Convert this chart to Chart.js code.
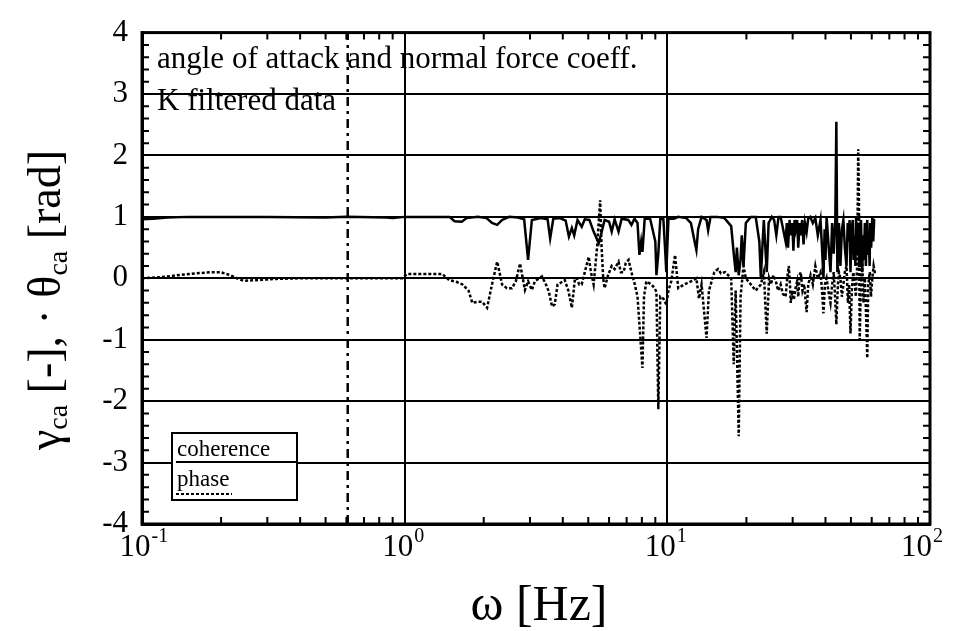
<!DOCTYPE html>
<html>
<head>
<meta charset="utf-8">
<script src="https://cdn.jsdelivr.net/npm/chart.js@4.4.1/dist/chart.umd.min.js"></script>
<style>
  body { margin: 0; background: #fff; }
  #wrap { width: 964px; height: 631px; position: relative; }
</style>
</head>
<body>
<div id="wrap"><canvas id="chart"></canvas></div>
<script>
// coherence (solid)
const cohFreq = [0.1, 0.11, 0.125, 0.15, 0.3, 0.5, 0.6, 0.85, 0.9, 1.0, 1.3, 1.48, 1.55, 1.65, 1.72, 1.9, 2.05, 2.15, 2.25, 2.35,
  2.5, 2.7, 2.85, 2.95, 3.05, 3.3, 3.5, 3.58, 3.68, 3.9, 4.1, 4.22, 4.33, 4.42, 4.55, 4.72, 4.85, 5.05, 5.24, 5.48,
  5.62, 5.77, 6.0, 6.14, 6.3, 6.52, 6.7, 7.1, 7.3, 7.5, 7.7, 7.83, 7.95, 8.04, 8.2, 8.6, 9.0, 9.09, 9.24, 9.4,
  9.66, 9.8, 9.91, 10.1, 10.6, 11.0, 11.8, 12.3, 12.7, 12.9, 13.1, 13.5, 14.1, 14.3, 14.6, 15.5, 16.5, 17.5, 17.9, 18.2,
  18.4, 18.7, 19.0, 19.2, 19.5, 19.9, 20.8, 21.7, 22.4, 22.7, 23.0, 23.3, 23.9,
  24.3, 25.0, 25.5, 26.0, 26.5, 27.0, 27.6, 28.2, 28.5, 28.8, 29.2, 29.5, 29.9, 30.2, 30.5, 30.8, 31.2, 31.5, 31.9, 32.2,
  32.6, 33.0, 33.4, 33.9, 34.4, 35.0, 35.8, 36.6, 37.4, 38.3, 38.8, 39.3, 39.7, 40.0, 40.4, 41.0, 41.8, 42.4, 43.0, 43.6,
  44.0, 44.4, 45.0, 45.6, 46.2, 46.8, 47.4, 48.1, 48.6, 49.0, 49.4, 49.8, 50.3, 50.8, 51.2, 51.5, 52.0, 52.3, 52.8, 53.3,
  53.7, 54.0, 54.6, 55.2, 55.6, 56.0, 56.5, 57.0, 57.4, 57.7, 58.1, 58.5, 58.9, 59.2, 59.7, 60.3, 60.8, 61.3, 61.9];
const cohVals = [0.96, 0.97, 0.99, 1.0, 1.0, 0.99, 1.0, 0.99, 0.98, 1.0, 1.0, 1.0, 0.93, 0.92, 0.98, 1.0, 0.98, 0.9, 0.87, 0.95,
  1.0, 0.99, 0.96, 0.3, 0.95, 0.98, 0.96, 0.65, 0.97, 0.98, 0.94, 0.68, 0.82, 0.7, 0.95, 0.84, 0.96, 0.95, 0.76, 0.57,
  0.75, 0.95, 0.92, 0.76, 0.96, 0.76, 0.97, 0.95, 0.87, 0.97, 0.9, 0.38, 0.6, 0.43, 0.97, 0.97, 0.6, 0.05, 0.4, 0.97,
  0.96, 0.5, 0.1, 0.97, 0.97, 1.0, 0.98, 0.9, 0.6, 0.46, 0.8, 1.0, 0.95, 0.78, 1.0, 1.0, 0.98, 0.85, 0.4, 0.1,
  0.5, 0.05, 0.3, 0.7, 0.2, 0.9, 1.0, 1.0, 0.6, 0.0, 0.5, 0.95, 0.1,
  0.9, 1.0, 0.95, 0.7, 1.0, 1.0, 0.8, 0.6, 0.9, 0.5, 0.95, 0.7, 0.9, 0.45, 0.95, 0.8, 0.95, 0.5, 0.9, 0.7,
  0.95, 0.55, 0.9, 0.75, 0.98, 1.0, 0.9, 0.98, 0.7, 0.95, 0.5, 0.0, 0.8, 0.3, 1.0, 0.6, 0.1, 0.9, 0.4, 0.95,
  2.55, 0.1, 0.9, 0.2, 0.8, 0.95, 0.5, 0.2, 0.9, 0.6, 0.95, 0.1, 0.8, 0.95, 0.3, 0.7, 0.2, 1.0, 0.4, 0.9,
  0.2, 0.8, 0.95, 0.1, 0.7, 0.3, 0.9, 0.2, 0.8, 0.95, 0.4, 0.7, 0.2, 0.9, 0.5, 1.0, 0.6, 0.95, 0.95];

// phase (dotted)
const phaseFreq = [0.1, 0.12, 0.136, 0.16, 0.183, 0.199, 0.217, 0.23, 0.243, 0.273, 0.325, 0.4, 0.6, 0.98, 1.02, 1.2, 1.39, 1.48, 1.58, 1.66,
  1.75, 1.81, 1.9, 1.97, 2.06, 2.15, 2.25, 2.35, 2.45, 2.56, 2.65, 2.75, 2.87, 2.95, 3.05, 3.13, 3.33, 3.45, 3.54, 3.64,
  3.73, 3.82, 3.9, 4.07, 4.2, 4.33, 4.45, 4.52, 4.62, 4.72, 4.85, 5.02, 5.12, 5.24, 5.4, 5.55, 5.62, 5.7, 5.77, 5.95,
  6.14, 6.3, 6.52, 6.65, 6.81, 6.95, 7.12, 7.3, 7.5, 7.7, 7.83, 8.04, 8.15, 8.32, 8.7, 8.9, 9.09, 9.24, 9.4, 9.66,
  9.91, 10.1, 10.35, 10.7, 11.0, 11.6, 12.3, 12.9, 13.2, 13.5, 14.1, 14.4, 15.1, 15.6, 16.0, 16.6, 17.5, 17.9, 18.2, 18.7,
  19.0, 19.5, 19.9, 20.8, 21.7, 22.7, 23.3, 23.9,
  24.4, 24.8, 25.3, 25.9, 26.4, 27.0, 27.5, 28.2, 28.6, 29.0, 29.3, 29.5, 29.9, 30.3, 30.8, 31.2, 31.5, 31.9, 32.2, 32.7,
  33.2, 33.9, 34.4, 35.1, 35.8, 36.6, 37.4, 38.3, 38.8, 39.3, 39.8, 40.4, 41.0, 41.8, 42.4, 43.0, 43.5, 44.0, 44.6, 45.0,
  45.6, 46.2, 46.8, 47.4, 48.1, 48.7, 49.2, 49.8, 50.4, 51.0, 51.5, 52.2, 52.8, 53.3, 53.6, 54.0, 54.5, 55.2, 55.8, 56.5,
  57.1, 57.7, 58.2, 59.0, 59.6, 60.3, 61.0, 61.9];
const phaseVals = [0.0, 0.02, 0.05, 0.08, 0.1, 0.1, 0.05, 0.0, -0.04, -0.03, -0.01, 0.0, 0.0, 0.0, 0.07, 0.07, 0.07, -0.03, -0.06, -0.1,
  -0.2, -0.4, -0.38, -0.38, -0.48, -0.1, 0.27, -0.1, -0.16, -0.16, -0.05, 0.24, -0.19, -0.05, -0.19, -0.05, 0.03, -0.1, -0.22, -0.46,
  -0.42, -0.1, -0.08, -0.03, -0.2, -0.48, 0.0, 0.0, -0.1, -0.1, 0.1, 0.35, 0.1, -0.1, 0.5, 1.27, 0.5, 0.0, -0.16, 0.05,
  0.2, 0.15, 0.27, 0.1, 0.1, 0.25, 0.3, 0.1, -0.08, -0.3, -0.75, -1.46, -0.3, -0.05, -0.1, -0.15, -0.22, -2.13, -0.3, -0.33,
  -0.43, -0.2, -0.05, 0.38, -0.16, -0.1, -0.05, 0.0, -0.33, -0.1, -0.97, -0.2, 0.1, 0.15, 0.08, 0.1, 0.0, -1.4, -0.2, -2.57,
  -0.3, 0.2, 0.0, -0.1, -0.2, -0.1, 0.1, -0.9,
  0.0, -0.1, 0.05, -0.05, -0.2, -0.1, -0.25, -0.3, 0.0, 0.2, -0.1, -0.4, -0.2, -0.35, -0.15, -0.05, -0.3, 0.05, 0.1, -0.2,
  -0.1, -0.55, -0.1, 0.05, -0.1, 0.2, 0.0, 0.1, -0.2, -0.57, -0.1, 0.0, -0.2, -0.4, -0.1, 0.1, -0.3, -0.75, -0.1, 0.1,
  0.0, -0.3, -0.1, 0.1, 0.2, -0.4, -0.1, -0.9, -0.2, 0.1, 0.0, -0.3, 0.2, 2.1, 1.4, -1.0, -0.2, 0.3, -0.4, 0.0,
  -0.6, -1.3, -0.1, 0.1, -0.3, 0.0, 0.2, 0.05];

// cut-off marker
const cutFreq = [0.607, 0.607];
const cutVals = [-4, 4];

const yTicks = [-4, -3, -2, -1, 0, 1, 2, 3, 4];
const xDecades = [0.1, 1, 10, 100];
const xExponents = ['-1', '0', '1', '2'];

const toPoints = (xs, ys) => xs.map((x, i) => ({ x: x, y: ys[i] }));
const SERIF = '"Liberation Serif", "DejaVu Serif", serif';

const decor = {
  id: 'decor',
  afterDraw(chart) {
    const { ctx, chartArea: a, scales } = chart;
    const xs = scales.x, ys = scales.y;
    ctx.save();
    ctx.strokeStyle = '#000';
    ctx.fillStyle = '#000';

    // minor ticks, inward
    ctx.lineWidth = 2;
    ctx.beginPath();
    for (let v = -4; v < 4; v += 0.2) {
      const r = Math.round(v * 10) / 10;
      if (Number.isInteger(r)) continue;
      const py = ys.getPixelForValue(r);
      ctx.moveTo(a.left, py); ctx.lineTo(a.left + 7, py);
      ctx.moveTo(a.right, py); ctx.lineTo(a.right - 7, py);
    }
    for (const d of [0.1, 1, 10]) {
      for (let m = 2; m <= 9; m++) {
        const px = xs.getPixelForValue(d * m);
        ctx.moveTo(px, a.bottom); ctx.lineTo(px, a.bottom - 7);
        ctx.moveTo(px, a.top); ctx.lineTo(px, a.top + 7);
      }
    }
    ctx.stroke();

    // frame
    ctx.lineWidth = 3;
    ctx.strokeRect(a.left, a.top, a.right - a.left, a.bottom - a.top);

    // x tick labels 10^n
    xDecades.forEach((v, i) => {
      const px = xs.getPixelForValue(v);
      ctx.font = '31px ' + SERIF;
      const w = ctx.measureText('10').width;
      ctx.textBaseline = 'alphabetic';
      ctx.textAlign = 'left';
      const x0 = i === 3 ? px - w + 2 : px - w / 2 - 7;
      ctx.fillText('10', x0, 556);
      ctx.font = '20px ' + SERIF;
      ctx.fillText(xExponents[i], x0 + w + 1, 542);
    });

    // x title
    ctx.font = '50px ' + SERIF;
    ctx.textAlign = 'center';
    ctx.fillText('\u03c9 [Hz]', 539, 620);

    // y title, rotated, with subscripts
    ctx.save();
    ctx.translate(60, 0);
    ctx.rotate(-Math.PI / 2);
    const parts = [
      ['\u03b3', 46, 0], ['ca', 28, 7], [' [-], \u00b7 \u03b8', 46, 0], ['ca', 28, 7], [' [rad]', 46, 0]
    ];
    let total = 0;
    parts.forEach(p => { ctx.font = p[1] + 'px ' + SERIF; total += ctx.measureText(p[0]).width; });
    let cx = -300 - total / 2;
    ctx.textAlign = 'left';
    parts.forEach(p => {
      ctx.font = p[1] + 'px ' + SERIF;
      ctx.fillText(p[0], cx, p[2]);
      cx += ctx.measureText(p[0]).width;
    });
    ctx.restore();

    // annotations
    ctx.font = '31px ' + SERIF;
    ctx.textAlign = 'left';
    ctx.fillText('angle of attack and normal force coeff.', 157, 68);
    ctx.fillText('K filtered data', 157, 110);

    // legend
    ctx.fillStyle = '#fff';
    ctx.fillRect(172, 433, 125, 67);
    ctx.lineWidth = 2;
    ctx.strokeRect(172, 433, 125, 67);
    ctx.fillStyle = '#000';
    ctx.font = '23px ' + SERIF;
    ctx.fillText('coherence', 177, 456);
    ctx.fillText('phase', 177, 486);
    ctx.beginPath();
    ctx.moveTo(176, 462); ctx.lineTo(297, 462);
    ctx.stroke();
    ctx.setLineDash([3, 2]);
    ctx.beginPath();
    ctx.moveTo(176, 494); ctx.lineTo(232, 494);
    ctx.stroke();
    ctx.restore();
  }
};

new Chart(document.getElementById('chart'), {
  type: 'scatter',
  data: {
    datasets: [
      {
        label: 'cut-off',
        data: toPoints(cutFreq, cutVals),
        showLine: true, borderColor: '#000', borderWidth: 2.5, borderDash: [9, 5, 3, 5],
        pointRadius: 0
      },
      {
        label: 'phase',
        data: toPoints(phaseFreq, phaseVals),
        showLine: true, borderColor: '#000', borderWidth: 2.5, borderDash: [3, 2],
        pointRadius: 0, tension: 0
      },
      {
        label: 'coherence',
        data: toPoints(cohFreq, cohVals),
        showLine: true, borderColor: '#000', borderWidth: 2.5,
        pointRadius: 0, tension: 0
      }
    ]
  },
  options: {
    responsive: true,
    maintainAspectRatio: false,
    animation: false,
    layout: { padding: { left: 0, right: 34, top: 23, bottom: 0 } },
    plugins: { legend: { display: false }, tooltip: { enabled: false } },
    scales: {
      x: {
        type: 'logarithmic', min: 0.1, max: 100,
        afterBuildTicks: s => { s.ticks = xDecades.map(v => ({ value: v })); },
        afterFit: s => { s.height = 107; },
        ticks: { display: false },
        grid: { color: '#000', lineWidth: 2, drawTicks: false },
        border: { color: '#000', width: 3 }
      },
      y: {
        min: -4, max: 4,
        afterBuildTicks: s => { s.ticks = yTicks.map(v => ({ value: v })); },
        afterFit: s => { s.width = 142; },
        ticks: { color: '#000', padding: 14, font: { family: SERIF, size: 31 } },
        grid: { color: '#000', lineWidth: 2, drawTicks: false },
        border: { color: '#000', width: 3 }
      }
    }
  },
  plugins: [decor]
});
</script>
</body>
</html>
